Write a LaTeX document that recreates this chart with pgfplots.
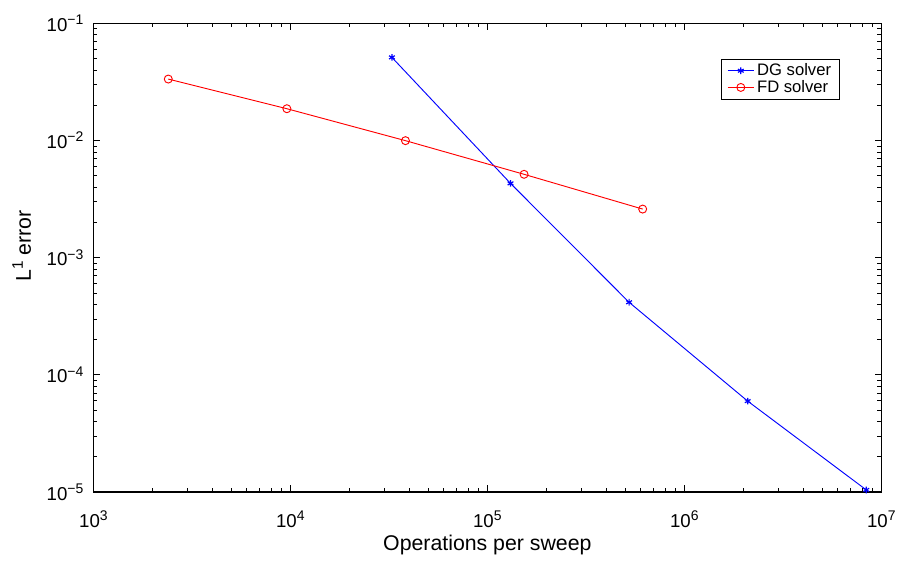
\documentclass[border=0pt]{standalone}
\usepackage{fontspec}
\setmainfont{Liberation Sans}
\usepackage{pgfplots}
\pgfplotsset{compat=1.18}

\newcommand{\ep}[1]{10\raisebox{0.7ex}{\fontsize{10.5}{11}\selectfont #1}}

\begin{document}
\begin{tikzpicture}
\begin{loglogaxis}[
    scale only axis,
    width=592pt, height=352pt,
    xmin=1e3, xmax=1e7,
    ymin=1e-5, ymax=1e-1,
    xtick={1e3,1e4,1e5,1e6,1e7},
    xticklabels={\ep{3},\ep{4},\ep{5},\ep{6},\ep{7}},
    ytick={1e-5,1e-4,1e-3,1e-2,1e-1},
    yticklabels={\ep{−5},\ep{−4},\ep{−3},\ep{−2},\ep{−1}},
    tick label style={font=\fontsize{14}{16}\selectfont},
    xticklabel style={anchor=base, yshift=-26.5pt},
    yticklabel style={xshift=-4pt},
    label style={font=\fontsize{16}{18}\selectfont},
    xlabel={Operations per sweep},
    ylabel={L\raisebox{0.7ex}{\fontsize{11.5}{12}\selectfont 1} error},
    xlabel style={at={(axis description cs:0.5,0)}, anchor=base, yshift=-44pt},
    ylabel style={at={(axis description cs:0,0.5)}, anchor=base, yshift=47pt, xshift=9pt},
    axis line style={line width=0.9pt},
    every tick/.style={black, line width=0.6pt},
    major tick length=5pt,
    minor tick length=3pt,
    legend style={
        at={(0.797,0.925)}, anchor=north west,
        font=\fontsize{12.5}{14}\selectfont,
        draw=black, line width=0.7pt,
        inner xsep=4pt, inner ysep=1.5pt, row sep=-2pt,
        legend cell align=left,
    },
    legend image code/.code={%
        \draw[mark repeat=2, mark phase=2, #1]
            plot coordinates {(0cm,0cm) (0.35cm,0cm) (0.7cm,0cm)};},
    legend image post style={line width=0.6pt},
]
\addplot[blue, line width=0.7pt, mark=asterisk, mark size=2.5pt, mark options={line width=0.9pt}] coordinates {
    (32768,0.0513)
    (131072,0.00431)
    (524288,0.000416)
    (2097152,0.0000596)
    (8388608,0.0000104)
};
\addlegendentry{DG solver}
\addplot[red, line width=0.7pt, mark=o, mark size=3pt, mark options={line width=0.7pt}] coordinates {
    (2400,0.0335)
    (9600,0.0187)
    (38400,0.00998)
    (153600,0.00515)
    (614400,0.00260)
};
\addlegendentry{FD solver}
\end{loglogaxis}
\path ([xshift=-6pt,yshift=8pt]current bounding box.north west)
      ([yshift=-2pt]current bounding box.south east);
\end{tikzpicture}
\end{document}
